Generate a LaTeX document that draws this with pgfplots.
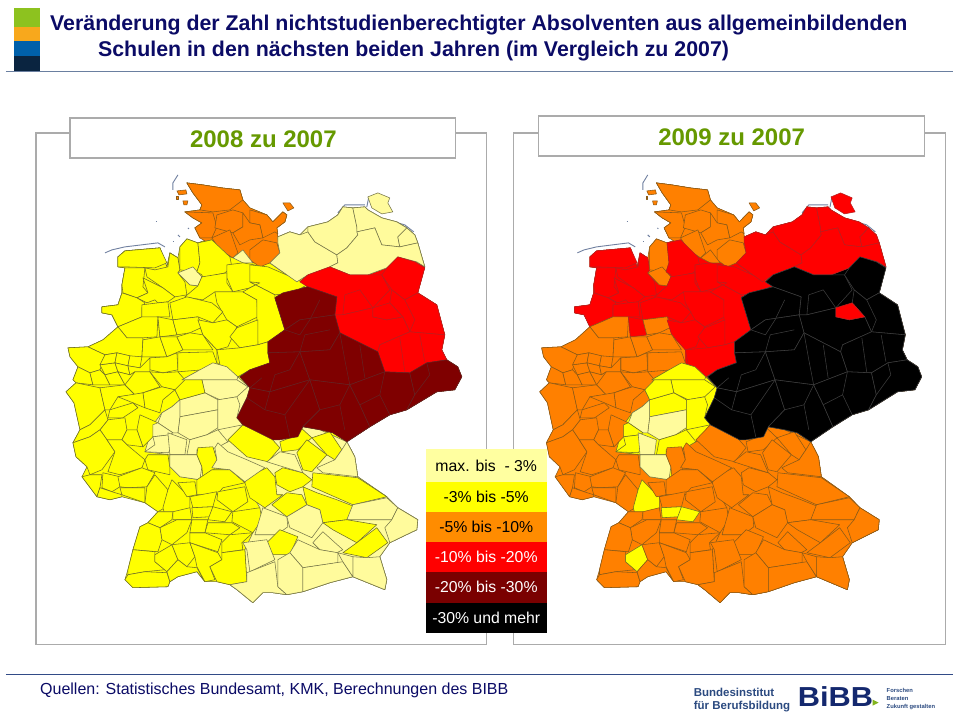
\documentclass[border=0pt]{standalone}
\usepackage{pgfplots}
\pgfplotsset{compat=1.18}
\usepackage{fontspec}
\setmainfont{Liberation Sans}
\definecolor{fP}{HTML}{FFFB9C}\definecolor{lP}{HTML}{77774A}
\definecolor{fY}{HTML}{FFFF00}\definecolor{lY}{HTML}{6E6E2A}
\definecolor{fO}{HTML}{FF8000}\definecolor{lO}{HTML}{8A5A18}
\definecolor{fR}{HTML}{FF0000}\definecolor{lR}{HTML}{B82020}
\definecolor{fD}{HTML}{7F0000}\definecolor{lD}{HTML}{662222}
\definecolor{fK}{HTML}{000000}\definecolor{lK}{HTML}{3C3C3C}
\definecolor{navy}{HTML}{0B0B66}
\definecolor{ttl}{HTML}{669900}
\definecolor{frm}{HTML}{ABABAB}
\definecolor{isl}{HTML}{7080A0}
\definecolor{lgP}{HTML}{FFFFA0}
\definecolor{lgO}{HTML}{FF8C00}
\definecolor{lgD}{HTML}{7A0000}
\definecolor{logo}{HTML}{2B4A80}
\definecolor{logb}{HTML}{14286E}
\pgfplotsset{pg/.style={width=953pt,height=713pt,scale only axis,at={(0pt,0pt)},anchor=south west,
  hide axis,clip=false,ymin=0,ymax=713,y dir=reverse,no markers}}
\newcommand\CL[3]{\addplot[fill=f#1,draw=l#1,line width=.55pt,line join=round,forget plot] coordinates {#3} -- cycle;}
\newcommand\CR[3]{\addplot[fill=f#2,draw=l#2,line width=.55pt,line join=round,forget plot] coordinates {#3} -- cycle;}
\newcommand\LL[3]{\addplot[draw=l#1,line width=.55pt,line join=round,forget plot] coordinates {#3};}
\newcommand\LR[3]{\addplot[draw=l#2,line width=.55pt,line join=round,forget plot] coordinates {#3};}
\newcommand\cells{%
% islands
\addplot[draw=isl,line width=.9pt,forget plot] coordinates {(178,175)(173,183)(173,190)};
\addplot[draw=isl,line width=.9pt,forget plot] coordinates {(105,253)(112,250)(125,247)(158,243)(165,247)};
\addplot[draw=isl,line width=1.2pt,forget plot] coordinates {(156,222)(157,222)};
\addplot[draw=isl,line width=1pt,forget plot] coordinates {(173,242)(174,242)};
\addplot[draw=isl,line width=1pt,forget plot] coordinates {(178,235)(180,237)};
\addplot[draw=isl,line width=1pt,forget plot] coordinates {(188,228)(189,229)};
\addplot[draw=isl,line width=.9pt,forget plot] coordinates {(338,213)(345,205)(365,205)};
\addplot[draw=isl,line width=.9pt,forget plot] coordinates {(367,207)(369,197)};
\addplot[draw=isl,line width=.9pt,forget plot] coordinates {(395,222)(405,225)(414,232)};
\C{O}{O}{(177,191)(186,190)(187,194)(179,195)}
\C{O}{O}{(183,201)(188,201)(187,205)(184,205)}
\C{O}{O}{(176,196)(178,196)(178,199)(176,199)}
% underlays
\C{Y}{O}{(187,183)(203,185)(222,188)(240,190)(243,200)(250,208)(267,215)(273,222)(283,212)(287,215)(285,222)(277,228)(278,237)(290,232)(300,235)(308,227)(328,222)(338,215)(343,207)(353,208)(365,207)(368,210)(382,218)(397,222)(407,228)(415,235)(418,243)(425,267)(418,293)(437,305)(445,335)(442,350)(447,360)(458,367)(462,377)(455,390)(437,392)(407,410)(390,415)(370,427)(347,442)(355,457)(358,477)(387,497)(398,508)(418,520)(417,530)(390,543)(380,557)(387,580)(385,590)(353,577)(330,583)(303,592)(287,595)(273,593)(263,593)(253,603)(237,590)(230,585)(217,582)(205,582)(197,572)(178,577)(170,582)(168,587)(133,588)(125,580)(128,570)(133,550)(140,527)(148,523)(158,512)(145,503)(122,497)(110,500)(97,497)(82,477)(87,467)(76,457)(73,443)(80,430)(74,403)(66,392)(76,383)(73,380)(78,367)(70,357)(68,348)(88,347)(103,340)(118,327)(112,315)(102,313)(102,307)(118,305)(122,293)(122,285)(125,268)(118,267)(118,257)(125,251)(160,248)(167,267)(170,253)(178,258)(180,247)(187,239)(198,243)(212,238)(200,238)(195,228)(202,223)(193,218)(185,212)(200,210)(202,205)(193,193)}
\C{O}{O}{(187,183)(203,185)(222,188)(240,190)(243,200)(250,208)(267,215)(273,222)(283,212)(287,215)(285,222)(277,228)(278,237)(280,253)(270,263)(260,267)(252,263)(230,257)(220,250)(200,238)(195,228)(202,223)(193,218)(185,212)(200,210)(202,205)(193,193)}
\C{Y}{R}{(125,251)(160,248)(167,267)(170,253)(178,258)(180,270)(178,273)(190,285)(198,286)(202,277)(197,272)(200,263)(198,243)(212,240)(230,257)(252,263)(270,263)(297,282)(300,282)(308,287)(283,293)(275,298)(285,330)(268,342)(268,353)(270,363)(250,370)(238,377)(217,363)(217,350)(203,335)(198,320)(173,320)(177,335)(160,337)(158,317)(142,317)(118,327)(112,315)(102,313)(102,307)(118,305)(122,293)(122,285)(125,268)(118,267)(118,257)}
\C{P}{R}{(278,237)(290,232)(300,235)(308,227)(328,222)(338,215)(343,207)(353,208)(365,207)(368,210)(382,218)(397,222)(407,228)(415,235)(418,243)(425,267)(417,262)(398,257)(387,268)(368,275)(350,275)(330,267)(308,275)(297,282)(270,263)(280,253)}
\C{R}{K}{(300,282)(308,275)(330,267)(350,275)(368,275)(387,268)(398,257)(415,262)(425,267)(418,293)(437,305)(445,335)(442,350)(447,360)(427,363)(410,373)(385,372)(378,352)(340,333)(335,315)(337,297)(308,287)}
\C{D}{K}{(308,287)(337,297)(335,315)(340,333)(378,352)(385,372)(410,373)(427,363)(447,360)(458,367)(462,377)(455,390)(437,392)(407,410)(390,415)(370,427)(347,442)(333,433)(320,430)(303,427)(298,437)(280,440)(273,440)(243,425)(237,418)(247,398)(250,388)(240,377)(250,370)(270,363)(268,353)(268,342)(285,330)(275,298)(283,293)}
\C{P}{Y}{(182,380)(213,363)(238,377)(250,388)(247,398)(237,418)(243,425)(228,442)(217,448)(213,473)(200,480)(180,477)(170,467)(170,455)(145,452)(153,425)(162,413)(172,407)(180,400)(175,390)}
\C{P}{O}{(243,425)(273,440)(298,437)(303,427)(320,430)(347,442)(355,457)(358,477)(387,497)(398,508)(418,520)(417,530)(390,543)(380,557)(387,580)(385,590)(353,577)(330,583)(303,592)(287,595)(273,593)(263,593)(253,603)(237,590)(230,585)(247,582)(245,550)(253,533)(260,508)(245,483)(230,470)(212,468)(217,460)(213,447)(228,442)}
% Schleswig-Holstein
\C{O}{O}{(187,183)(203,185)(222,188)(240,190)(243,200)(230,210)(213,212)(200,210)(202,205)(193,193)}
\C{O}{O}{(185,212)(213,213)(217,227)(212,238)(200,238)(195,228)(202,223)(193,218)}
\C{O}{O}{(217,215)(233,210)(243,213)(243,227)(233,233)(215,228)}
\C{O}{O}{(212,238)(230,230)(238,253)(233,258)(220,250)}
\C{O}{O}{(250,210)(267,215)(273,222)(283,212)(287,215)(285,222)(277,228)(278,234)(275,232)(263,238)(260,225)(250,223)}
\C{O}{O}{(243,213)(250,223)(260,225)(263,238)(250,240)(240,245)(233,233)(243,227)}
\C{O}{O}{(250,250)(263,240)(277,243)(280,253)(270,263)(260,267)(250,260)}
\C{O}{O}{(283,203)(290,203)(294,208)(288,211)}
\C{P}{O}{(233,258)(243,250)(253,263)(243,263)}
% Niedersachsen
\C{Y}{R}{(118,267)(118,257)(125,251)(160,248)(167,263)(155,268)(125,267)}
\C{Y}{R}{(125,268)(145,268)(143,287)(148,293)(137,298)(123,293)(122,285)}
\C{Y}{R}{(145,268)(155,270)(168,267)(170,253)(178,258)(180,270)(178,273)(185,282)(187,295)(175,297)(163,288)(147,277)}
\C{Y}{R}{(143,278)(163,288)(175,297)(168,302)(158,303)(155,300)(147,303)(137,298)(148,293)}
\C{Y}{O}{(180,270)(180,247)(187,239)(198,243)(200,263)(197,272)}
\C{P}{O}{(178,273)(193,267)(202,277)(198,286)(190,285)}
\C{Y}{R}{(198,243)(212,240)(230,257)(232,267)(225,273)(203,278)(202,275)(197,272)(200,263)}
\C{Y}{R}{(227,265)(243,263)(260,266)(260,283)(250,288)(233,292)(227,278)}
\C{Y}{R}{(250,265)(268,267)(298,280)(307,285)(293,293)(275,295)(250,282)}
\C{Y}{R}{(198,286)(202,277)(227,273)(227,283)(233,292)(215,292)(203,300)(185,297)}
\C{Y}{R}{(215,292)(243,292)(257,300)(258,317)(237,327)(227,320)(217,303)}
\C{Y}{R}{(250,282)(275,295)(275,298)(285,330)(268,342)(258,345)(257,317)(257,300)(243,292)(250,288)(260,283)}
\C{Y}{R}{(102,307)(118,305)(122,293)(137,298)(145,303)(142,308)(142,317)(118,327)(112,315)(102,313)}
\C{Y}{R}{(142,305)(158,303)(168,302)(170,317)(158,317)(145,320)(142,317)}
\C{Y}{R}{(170,303)(187,297)(212,303)(223,312)(213,323)(198,317)(173,320)}
\C{Y}{O}{(118,327)(142,317)(158,317)(157,337)(143,338)(127,338)}
\C{Y}{R}{(158,317)(173,320)(177,335)(160,337)}
\C{Y}{O}{(173,320)(198,317)(203,327)(190,333)(177,335)}
\C{Y}{R}{(198,320)(213,323)(227,320)(237,327)(228,347)(217,350)(203,335)}
\C{Y}{R}{(230,337)(237,328)(258,320)(258,345)(240,348)}
% NRW north, Ruhr
\C{Y}{O}{(118,327)(127,338)(143,338)(142,357)(137,358)(117,353)(105,355)(88,347)(103,340)}
\C{Y}{O}{(143,340)(160,337)(167,357)(150,357)(142,357)}
\C{Y}{O}{(160,337)(177,337)(183,350)(167,357)}
\C{Y}{O}{(177,337)(190,333)(203,335)(213,350)(183,350)}
\C{Y}{O}{(150,358)(167,357)(177,353)(178,370)(163,373)(150,370)}
\C{Y}{O}{(178,353)(213,352)(217,363)(203,370)(178,372)}
\C{Y}{R}{(217,350)(240,348)(258,345)(268,342)(268,353)(270,363)(250,370)(238,377)(220,365)}
\C{Y}{O}{(68,348)(88,347)(105,355)(100,370)(90,373)(78,367)(70,357)}
\C{Y}{O}{(78,367)(90,373)(93,385)(76,383)(73,380)}
\C{Y}{O}{(100,365)(115,363)(118,372)(105,375)}
\C{Y}{O}{(105,355)(117,353)(115,363)(100,365)}
\C{Y}{O}{(117,353)(130,356)(128,366)(115,363)}
\C{Y}{O}{(130,356)(142,357)(140,368)(128,366)}
\C{Y}{O}{(118,372)(115,363)(128,366)(130,375)}
\C{Y}{O}{(128,366)(140,368)(150,358)(150,372)(135,372)(130,375)}
\C{Y}{O}{(90,373)(100,370)(105,375)(110,385)(93,385)}
\C{Y}{O}{(105,375)(118,372)(125,385)(110,385)}
\C{Y}{O}{(118,372)(130,375)(135,372)(135,385)(125,385)}
% Rhineland, Rheinland-Pfalz, Saar
\C{Y}{O}{(76,383)(100,388)(105,410)(90,425)(80,430)(74,403)(66,392)}
\C{Y}{O}{(100,388)(125,385)(135,395)(118,397)(110,410)(105,410)}
\C{Y}{O}{(135,372)(150,372)(160,387)(143,393)(135,395)(125,385)}
\C{Y}{O}{(150,372)(163,373)(178,372)(185,380)(187,387)(175,390)(162,387)}
\C{Y}{O}{(143,393)(162,387)(175,390)(163,400)(160,413)(145,408)}
\C{Y}{O}{(118,397)(143,393)(145,408)(133,403)}
\C{Y}{O}{(110,410)(133,403)(138,408)(123,418)(108,418)}
\C{Y}{O}{(100,430)(108,420)(125,418)(127,430)(122,440)(107,440)}
\C{Y}{O}{(137,430)(140,415)(158,423)(153,437)(143,447)}
\C{Y}{O}{(122,440)(127,430)(137,430)(143,447)(127,445)}
\C{Y}{O}{(80,430)(90,425)(105,410)(108,420)(100,430)(90,437)(73,443)}
\C{Y}{O}{(90,437)(100,430)(107,440)(115,452)(102,470)(90,475)(87,467)(76,457)(73,443)}
\C{Y}{O}{(127,445)(145,460)(142,468)(120,475)(108,472)(115,452)(107,440)(122,440)}
\C{Y}{O}{(148,455)(168,455)(170,468)(170,475)(148,470)(145,460)}
\C{Y}{O}{(82,477)(90,475)(102,475)(100,488)(97,497)}
\C{Y}{O}{(103,473)(120,477)(120,487)(112,492)(102,488)}
\C{Y}{O}{(118,477)(142,468)(155,473)(147,487)(128,488)(120,487)}
\C{Y}{O}{(120,488)(145,488)(145,503)(122,495)}
\C{Y}{O}{(147,487)(155,475)(168,490)(165,508)(158,512)(145,503)}
\C{Y}{O}{(100,488)(112,492)(122,495)(122,497)(110,500)(97,497)}
% Hessen
\C{P}{Y}{(182,380)(200,370)(213,363)(227,367)(238,377)(237,380)(202,380)}
\C{P}{Y}{(202,380)(237,380)(248,387)(237,397)(220,400)(205,393)}
\C{P}{Y}{(180,400)(205,393)(218,400)(218,410)(180,417)}
\C{Y}{Y}{(185,380)(202,380)(205,393)(180,400)(175,390)}
\C{P}{P}{(180,417)(218,410)(218,428)(207,435)(190,440)(178,433)}
\C{P}{Y}{(218,400)(237,397)(240,405)(237,418)(243,425)(218,430)}
\C{P}{P}{(180,400)(172,407)(162,413)(158,423)(173,433)(178,433)(180,417)}
\C{P}{Y}{(158,423)(153,425)(153,437)(170,435)(173,433)}
\C{P}{Y}{(153,437)(170,435)(173,448)(168,453)(145,452)(155,445)}
\C{P}{P}{(168,433)(187,440)(185,455)(170,455)}
\C{P}{Y}{(190,440)(207,435)(218,430)(228,442)(217,448)(197,450)(197,455)(187,455)}
\C{P}{P}{(170,455)(197,455)(202,467)(200,480)(180,477)(170,467)}
\C{Y}{O}{(198,448)(213,447)(217,460)(213,473)(203,477)(202,467)(197,455)}
% Baden-Wuerttemberg
\C{Y}{Y}{(172,480)(182,490)(190,497)(190,512)(165,515)(163,508)(168,490)}
\C{Y}{O}{(178,483)(195,482)(197,495)(187,497)}
\C{Y}{O}{(197,480)(212,470)(230,470)(245,483)(223,488)(217,495)(197,495)}
\C{Y}{O}{(190,497)(217,492)(213,507)(193,508)}
\C{Y}{O}{(218,492)(245,487)(248,502)(233,512)(217,500)}
\C{Y}{Y}{(192,508)(213,507)(210,517)(193,518)}
\C{Y}{O}{(173,512)(190,508)(192,520)(173,520)}
\C{Y}{O}{(158,512)(173,512)(172,520)(160,528)(148,523)}
\C{Y}{Y}{(213,507)(232,512)(225,522)(208,520)}
\C{Y}{O}{(233,512)(260,508)(262,520)(253,533)(232,522)}
\C{Y}{O}{(208,523)(232,523)(240,528)(230,535)(205,533)}
\C{Y}{O}{(190,533)(205,533)(222,540)(218,552)(190,543)}
\C{Y}{O}{(230,535)(253,533)(242,543)(243,550)(222,553)(222,543)}
\C{Y}{O}{(160,528)(177,520)(192,520)(187,533)(172,545)(162,540)}
\C{Y}{O}{(140,527)(148,523)(160,528)(162,540)(158,552)(133,550)}
\C{Y}{O}{(192,520)(208,520)(205,533)(190,533)}
\C{Y}{O}{(133,550)(155,552)(155,562)(165,570)(145,572)(128,575)(128,570)}
\C{Y}{Y}{(155,555)(172,545)(178,560)(167,572)(155,562)}
\C{Y}{O}{(125,580)(128,575)(145,572)(167,573)(170,582)(168,587)(133,588)}
\C{Y}{O}{(172,545)(190,543)(195,557)(187,567)(178,560)}
\C{Y}{O}{(167,572)(178,560)(187,567)(197,568)(205,582)(197,572)(178,577)(170,582)}
\C{Y}{O}{(190,543)(218,553)(222,560)(210,567)(215,580)(205,582)(197,567)(195,557)}
\C{Y}{O}{(222,553)(245,550)(247,582)(230,585)(217,582)(210,567)(222,560)}
% Bayern
\C{Y}{O}{(245,483)(248,477)(267,468)(275,477)(277,495)(283,495)(265,508)(250,498)}
\C{Y}{O}{(275,473)(283,468)(303,473)(312,480)(303,487)(290,492)(277,485)}
\C{P}{O}{(218,443)(228,452)(247,460)(265,468)(245,482)(230,470)(212,468)(217,460)(215,448)}
\C{Y}{O}{(228,440)(243,425)(270,437)(280,448)(268,462)(247,457)}
\C{P}{O}{(267,462)(280,452)(295,455)(303,473)(283,467)}
\C{Y}{O}{(280,442)(298,435)(300,427)(312,438)(298,450)(282,452)}
\C{Y}{O}{(297,453)(307,440)(327,455)(312,472)(303,470)}
\C{Y}{O}{(312,438)(330,432)(342,450)(335,460)(327,455)}
\C{P}{O}{(317,468)(335,460)(342,450)(347,442)(355,457)(358,477)(323,473)}
\C{Y}{O}{(313,473)(358,478)(387,497)(353,505)(337,498)(312,487)}
\C{Y}{O}{(272,505)(287,493)(302,495)(307,505)(287,517)}
\C{Y}{O}{(303,487)(317,493)(337,500)(355,507)(347,520)(323,523)(320,510)(307,505)}
\C{P}{O}{(353,505)(387,498)(398,508)(392,520)(347,520)}
\C{P}{O}{(392,520)(398,508)(418,520)(417,530)(390,543)(385,528)}
\C{Y}{O}{(323,523)(347,520)(377,525)(357,543)(333,530)}
\C{Y}{O}{(343,553)(357,543)(377,528)(388,543)(367,558)}
\C{P}{O}{(263,508)(287,517)(288,527)(277,535)(255,535)}
\C{P}{O}{(287,517)(307,505)(320,510)(323,523)(312,538)(290,528)}
\C{Y}{O}{(267,543)(280,530)(298,537)(290,555)(273,555)}
\C{P}{O}{(313,543)(323,532)(343,550)(337,553)(320,550)}
\C{P}{O}{(243,543)(267,540)(275,560)(250,572)(247,550)}
\C{P}{O}{(290,553)(298,540)(320,550)(338,553)(338,563)(303,568)}
\C{P}{O}{(247,573)(275,562)(278,587)(287,595)(273,593)(263,593)(253,603)(237,590)(230,585)(247,582)}
\C{P}{O}{(278,560)(290,553)(303,568)(303,592)(287,595)(278,587)}
\C{P}{O}{(303,568)(343,562)(353,577)(330,583)(303,592)}
\C{P}{O}{(353,557)(367,558)(380,557)(387,580)(385,590)(353,577)}
\C{P}{O}{(338,553)(353,557)(353,577)(343,562)}
% Mecklenburg-Vorpommern
\C{P}{R}{(278,237)(290,232)(300,235)(308,232)(315,242)(337,255)(338,263)(330,267)(308,275)(297,282)(270,263)(280,253)(278,243)}
\C{P}{R}{(308,227)(328,222)(338,215)(343,207)(353,208)(357,227)(358,235)(347,248)(337,255)(315,242)(308,232)}
\C{P}{R}{(353,208)(365,207)(368,210)(382,218)(397,222)(407,228)(398,237)(400,247)(382,245)(375,228)(357,232)(357,227)}
\C{P}{R}{(368,197)(378,193)(390,198)(388,203)(393,212)(382,214)(372,208)}
\C{P}{R}{(407,228)(415,235)(418,243)(400,247)(398,237)}
\C{P}{R}{(357,232)(375,228)(382,245)(400,247)(418,243)(425,267)(417,262)(398,257)(387,268)(368,275)(350,275)(330,267)(338,263)(337,255)(347,248)(358,235)}
% Brandenburg
\C{R}{K}{(300,282)(308,275)(330,267)(350,275)(368,275)(382,275)(390,290)(373,308)(343,315)(335,315)(337,297)(308,287)}
\C{R}{K}{(382,275)(387,268)(398,257)(415,262)(425,268)(418,293)(405,300)(392,290)}
\C{R}{K}{(392,290)(405,300)(418,293)(437,305)(445,335)(410,332)(403,317)(390,303)}
\C{R}{K}{(340,333)(335,315)(343,315)(373,308)(373,317)(387,320)(403,317)(410,332)(380,345)(378,352)}
\C{R}{K}{(380,345)(410,332)(445,335)(442,350)(447,360)(427,363)(410,373)(385,372)(378,352)}
\C{R}{R}{(373,308)(390,303)(403,317)(387,320)(373,317)}
% Sachsen-Anhalt, Thueringen, Sachsen
\C{D}{K}{(275,298)(283,293)(308,287)(337,297)(335,315)(300,320)(285,330)}
\C{D}{K}{(285,330)(300,320)(335,315)(340,333)(330,350)(300,352)(268,353)(268,342)}
\C{D}{K}{(240,377)(250,370)(270,363)(268,353)(300,352)(310,380)(270,392)(250,388)}
\C{D}{K}{(250,388)(270,392)(310,380)(320,410)(303,427)(298,437)(280,440)(273,440)(243,425)(237,418)(247,398)}
\C{D}{K}{(300,352)(330,350)(340,333)(378,352)(385,372)(350,385)(310,380)}
\C{D}{K}{(310,380)(350,385)(360,405)(370,427)(347,442)(333,433)(320,430)(303,427)(320,410)}
\C{D}{K}{(350,385)(385,372)(410,373)(415,395)(407,410)(390,415)(370,427)(360,405)}
\C{D}{K}{(410,373)(427,363)(447,360)(458,367)(462,377)(455,390)(437,392)(407,410)(415,395)}
% inner lines in the east
\Ln{D}{K}{(285,330)(300,335)(310,320)}
\Ln{D}{K}{(300,352)(305,335)(330,330)}
\Ln{D}{K}{(310,320)(320,300)}
\Ln{D}{K}{(270,392)(275,375)(290,370)(300,352)}
\Ln{D}{K}{(250,388)(262,378)}
\Ln{D}{K}{(270,392)(265,410)(247,398)}
\Ln{D}{K}{(265,410)(285,415)(290,437)}
\Ln{D}{K}{(285,415)(310,380)}
\Ln{D}{K}{(320,410)(340,405)(350,385)}
\Ln{D}{K}{(340,405)(345,430)}
\Ln{D}{K}{(360,405)(380,395)(385,372)}
\Ln{D}{K}{(380,395)(390,415)}
\Ln{D}{K}{(415,395)(430,375)(427,363)}
\Ln{D}{K}{(350,385)(345,360)(340,333)}
\Ln{D}{K}{(360,345)(365,378)}
\Ln{R}{K}{(343,315)(345,295)(360,290)(373,308)}
\Ln{R}{K}{(405,300)(415,320)(410,332)}
\Ln{R}{K}{(420,335)(425,362)}
\Ln{R}{K}{(400,338)(405,372)}
}
\begin{document}
\begin{tikzpicture}
\fill[white] (0pt,0pt) rectangle (953pt,713pt);
\begin{scope}[x=1pt,y=-1pt,yshift=713pt]
 \draw[frm,line width=1.4pt] (36,133) rectangle (487,645);
 \draw[frm,line width=1.4pt] (514,133) rectangle (946,645);
\end{scope}
\begin{axis}[pg,xmin=0,xmax=953]
 \let\C\CL \let\Ln\LL \cells
\end{axis}
\begin{axis}[pg,xmin=-493.6,xmax=494]
 \let\C\CR \let\Ln\LR \cells
\end{axis}
\begin{scope}[x=1pt,y=-1pt,yshift=713pt]
 % header block
 \fill[fill={rgb,255:red,141;green,194;blue,31}] (14,8) rectangle (40,27);
 \fill[fill={rgb,255:red,248;green,168;blue,28}] (14,27) rectangle (40,41);
 \fill[fill={rgb,255:red,0;green,96;blue,170}] (14,41) rectangle (40,56);
 \fill[fill={rgb,255:red,10;green,36;blue,64}] (14,56) rectangle (40,72);
 \draw[line width=1pt,color={rgb,255:red,106;green,127;blue,160}] (6,72) -- (953,72);
 \node[anchor=base west,inner sep=0pt,text=navy,font=\fontsize{21.35}{21}\selectfont\bfseries] at (50,31) {Veränderung der Zahl nichtstudienberechtigter Absolventen aus allgemeinbildenden};
 \node[anchor=base west,inner sep=0pt,text=navy,font=\fontsize{21.35}{21}\selectfont\bfseries] at (98,56.5) {Schulen in den nächsten beiden Jahren (im Vergleich zu 2007)};
 % panel titles
 \draw[frm,fill=white,line width=1.4pt] (70,118) rectangle (456,158);
 \node[anchor=base,inner sep=0pt,text=ttl,font=\fontsize{24}{24}\selectfont\bfseries] at (263.5,148) {2008 zu 2007};
 \draw[frm,fill=white,line width=1.4pt] (539,116) rectangle (925,156);
 \node[anchor=base,inner sep=0pt,text=ttl,font=\fontsize{24}{24}\selectfont\bfseries] at (732,146) {2009 zu 2007};
 % legend
 \fill[lgP] (426,449) rectangle (547,482);
 \fill[fY] (426,482) rectangle (547,512);
 \fill[lgO] (426,512) rectangle (547,542);
 \fill[fR] (426,542) rectangle (547,572);
 \fill[lgD] (426,572) rectangle (547,603);
 \fill[black] (426,603) rectangle (547,633);
 \foreach \y/\t/\c in {472/{max. bis\ \ - 3\%}/black,503/{-3\% bis -5\%}/black,533/{-5\% bis -10\%}/black,563/{-10\% bis -20\%}/white,593/{-20\% bis -30\%}/white,624/{-30\% und mehr}/white}
   \node[anchor=base,inner sep=0pt,text=\c,font=\fontsize{15.8}{15.8}\selectfont] at (486.5,\y) {\t};
 % footer
 \draw[line width=1pt,color={rgb,255:red,50;green,75;blue,135}] (6,675) -- (953,675);
 \node[anchor=base west,inner sep=0pt,text=navy,font=\fontsize{16}{16}\selectfont] at (40,695) {Quellen: Statistisches Bundesamt, KMK, Berechnungen des BIBB};
 \node[anchor=base west,inner sep=0pt,text=logo,font=\fontsize{11.5}{11.5}\selectfont\bfseries] at (694,697) {Bundesinstitut};
 \node[anchor=base west,inner sep=0pt,text=logo,font=\fontsize{11.5}{11.5}\selectfont\bfseries] at (694,710) {für Berufsbildung};
 \node[anchor=base west,inner sep=0pt,text=logb,font=\fontsize{27.5}{27.5}\selectfont\bfseries] at (798,707) {\scalebox{1.12}[1]{BiBB}};
 \fill[fill={rgb,255:red,130;green,180;blue,30}] (873,700) -- (879,703) -- (873,706) -- cycle;
 \node[anchor=base west,inner sep=0pt,text=logo,font=\fontsize{5.8}{5.8}\selectfont\bfseries] at (887,693) {Forschen};
 \node[anchor=base west,inner sep=0pt,text=logo,font=\fontsize{5.8}{5.8}\selectfont\bfseries] at (887,701) {Beraten};
 \node[anchor=base west,inner sep=0pt,text=logo,font=\fontsize{5.8}{5.8}\selectfont\bfseries] at (887,709) {Zukunft gestalten};
\end{scope}
\end{tikzpicture}
\end{document}
